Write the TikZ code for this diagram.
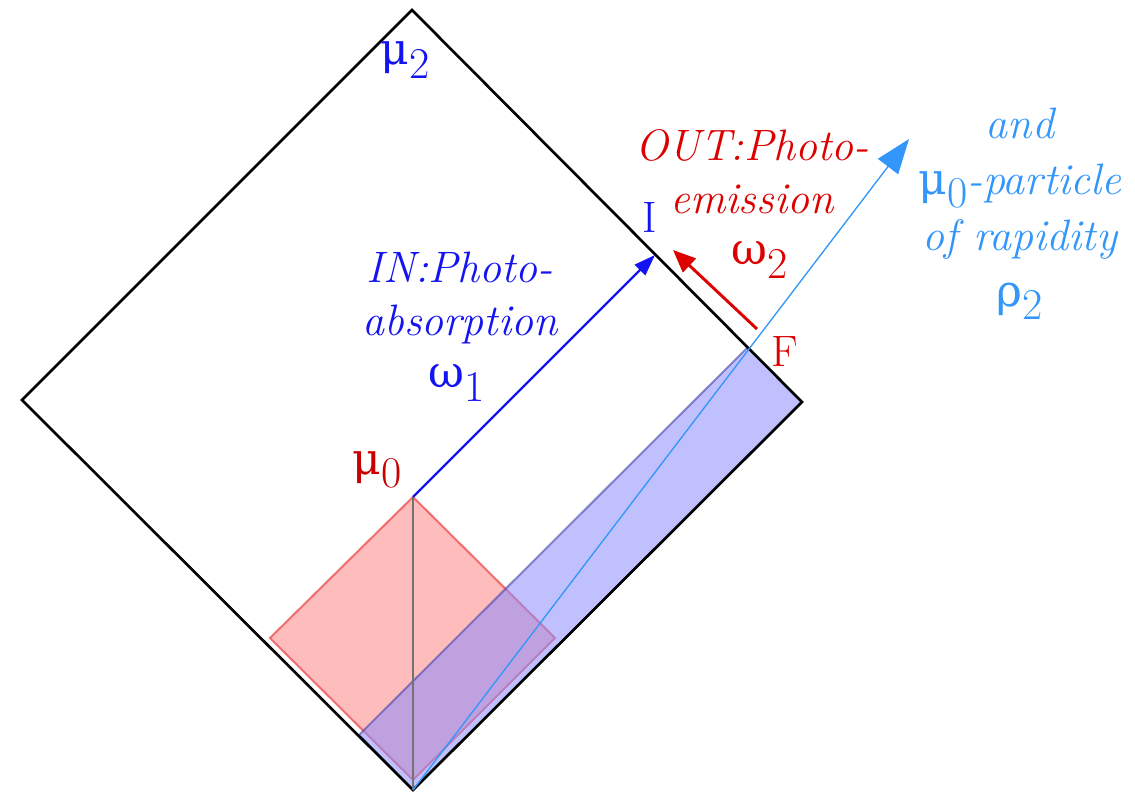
\documentclass[tikz,border=0pt]{standalone}
\usepackage{fontspec}
\newfontfamily\gkf{DejaVu Serif}
\usetikzlibrary{arrows.meta}
\definecolor{dblue}{RGB}{20,20,240}
\definecolor{dred}{RGB}{220,0,0}
\definecolor{mred}{RGB}{200,0,0}
\definecolor{lblue}{RGB}{50,150,250}
\definecolor{pinkfill}{RGB}{255,188,188}
\definecolor{pinkline}{RGB}{240,110,110}
\definecolor{lavfill}{RGB}{140,140,255}
\definecolor{lavline}{RGB}{70,70,170}
\newcommand\lsub[1]{\raisebox{-0.3em}{#1}}
\newcommand\gk[1]{{\gkf\upshape\fontsize{33}{33}\selectfont #1}}
\newcommand\rsub[1]{{\upshape\lsub{#1}}}
\tikzset{
  lbl/.style={inner sep=0pt, font=\fontsize{33}{38}\selectfont},
  itl/.style={lbl, font=\fontsize{33}{40}\selectfont\itshape, align=center},
}
\begin{document}
\begin{tikzpicture}[x=0.75pt,y=-0.75pt]
\useasboundingbox (0,0) rectangle (1135,792);
% key points
\coordinate (T) at (412,10);
\coordinate (L) at (22,400);
\coordinate (B) at (413,790);
\coordinate (R) at (802,402);
\coordinate (M0) at (413,497);
\coordinate (PL) at (270,638);
\coordinate (PB) at (413,780);
\coordinate (PR) at (555,638);
\coordinate (I) at (655,255);
\coordinate (F) at (747,348);
\coordinate (BB) at (413,790);
\coordinate (BL) at (359,735);
\coordinate (RT) at (757,329);
\coordinate (RH) at (673,250);
\coordinate (LT) at (909,139);
% pink square
\draw[pinkline, line width=1.5pt, fill=pinkfill, line join=miter] (M0) -- (PR) -- (PB) -- (PL) -- cycle;
% blue rectangle
\fill[lavfill, fill opacity=0.55] (F) -- (R) -- (BB) -- (BL) -- cycle;
\draw[lavline, draw opacity=0.6, line width=1.5pt] (R) -- (BB) -- (BL) -- (F);
% outer diamond
\draw[black, line width=2pt, line join=miter] (T) -- (R) -- (B) -- (L) -- cycle;
% vertical line
\draw[black!55, line width=1pt] (M0) -- (B);
% arrows
\draw[dblue, line width=1.8pt, -{Triangle[length=16pt,width=11pt]}] (M0) -- (I);
\draw[dred, line width=2.2pt, -{Triangle[length=17pt,width=14pt]}] (RT) -- (RH);
\draw[lblue, line width=1pt, -{Triangle[length=26pt,width=20pt,angle'=40]}] (B) -- (LT);
% labels
\node[lbl, text=dblue] (mu2) at (405,60) {\gk{μ}\lsub{2}};
\node[lbl, text=mred] (mu0) at (377,470) {\gk{μ}\lsub{0}};
\node[lbl, text=dblue] (Ilab) at (650,217) {I};
\node[lbl, text=dred] (Flab) at (785,352) {F};
\node[itl, text=dblue] (inlab) at (460,298) {IN:Photo-\\absorption};
\node[lbl, text=dblue] (w1) at (457,383) {\gk{ω}\lsub{1}};
\node[itl, text=dred] (outlab) at (752,172) {OUT:Photo-\\emission};
\node[lbl, text=dred] (w2) at (760,260) {\gk{ω}\lsub{2}};
\node[itl, text=lblue, font=\fontsize{33}{42}\selectfont\itshape] (rap) at (1020,214) {and\\\gk{μ}\rsub{0}-particle\\of rapidity\\\gk{ρ}\rsub{2}};
\end{tikzpicture}
\end{document}
